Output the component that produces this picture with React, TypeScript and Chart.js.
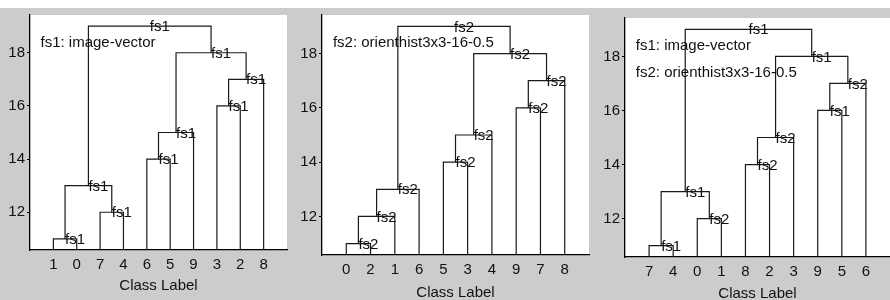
import React, { useEffect, useRef } from 'react';
import { Chart, registerables } from 'chart.js';

Chart.register(...registerables);

// ---------- data ----------
const Y_MIN = 10.58;
const Y_MAX = 19.42;
const yTicks = [12, 14, 16, 18];
const xTitle = 'Class Label';

// Panel 1 (fs1)
const leaves1 = ['1', '0', '7', '4', '6', '5', '9', '3', '2', '8'];
// children: 1..10 = leaf positions, 11.. = earlier merges (MATLAB linkage style)
const left1 = [1, 3, 11, 5, 14, 8, 16, 15, 13];
const right1 = [2, 4, 12, 6, 7, 9, 10, 17, 18];
const heights1 = [11, 12, 13, 14, 15, 16, 17, 18, 19];
const labels1 = ['fs1', 'fs1', 'fs1', 'fs1', 'fs1', 'fs1', 'fs1', 'fs1', 'fs1'];
const notes1 = ['fs1: image-vector'];

// Panel 2 (fs2)
const leaves2 = ['0', '2', '1', '6', '5', '3', '4', '9', '7', '8'];
const left2 = [1, 11, 12, 5, 14, 8, 16, 15, 13];
const right2 = [2, 3, 4, 6, 7, 9, 10, 17, 18];
const heights2 = [11, 12, 13, 14, 15, 16, 17, 18, 19];
const labels2 = ['fs2', 'fs2', 'fs2', 'fs2', 'fs2', 'fs2', 'fs2', 'fs2', 'fs2'];
const notes2 = ['fs2: orienthist3x3-16-0.5'];

// Panel 3 (combined)
const leaves3 = ['7', '4', '0', '1', '8', '2', '3', '9', '5', '6'];
const left3 = [1, 3, 11, 5, 14, 8, 16, 15, 13];
const right3 = [2, 4, 12, 6, 7, 9, 10, 17, 18];
const heights3 = [11, 12, 13, 14, 15, 16, 17, 18, 19];
const labels3 = ['fs1', 'fs2', 'fs1', 'fs2', 'fs2', 'fs1', 'fs2', 'fs1', 'fs1'];
const notes3 = ['fs1: image-vector', 'fs2: orienthist3x3-16-0.5'];

// ---------- layout / style ----------
const FONT = 'Liberation Sans, Arial, sans-serif';
const FS = 15;
const LINE_COLOR = '#1a1a1a';
const TEXT_COLOR = '#111';
const NOTE_X = 0.45;
const NOTE_Y = 18.38;
const NOTE_STEP = 1;

const panels = [
  { leaves: leaves1, left: left1, right: right1, heights: heights1, labels: labels1, notes: notes1,
    x: 0, w: 292, area: { l: 30, t: 15, r: 287, b: 250 }, titlePad: 5 },
  { leaves: leaves2, left: left2, right: right2, heights: heights2, labels: labels2, notes: notes2,
    x: 292, w: 306, area: { l: 30, t: 15, r: 297, b: 255 }, titlePad: -1.5 },
  { leaves: leaves3, left: left3, right: right3, heights: heights3, labels: labels3, notes: notes3,
    x: 598, w: 292, area: { l: 27, t: 18, r: 292, b: 257 }, titlePad: -2.5 },
];

type Panel = typeof panels[number];

function buildLinks(p: Panel) {
  const n = p.leaves.length;
  const nodeX: number[] = [];
  const nodeH: number[] = [];
  for (let i = 1; i <= n; i++) { nodeX[i] = i; nodeH[i] = Y_MIN; }
  const links: { pts: { x: number; y: number }[]; cx: number; h: number; label: string }[] = [];
  p.heights.forEach((h, k) => {
    const a = p.left[k];
    const b = p.right[k];
    const id = n + 1 + k;
    nodeX[id] = (nodeX[a] + nodeX[b]) / 2;
    nodeH[id] = h;
    links.push({
      pts: [
        { x: nodeX[a], y: nodeH[a] },
        { x: nodeX[a], y: h },
        { x: nodeX[b], y: h },
        { x: nodeX[b], y: nodeH[b] },
      ],
      cx: nodeX[id],
      h,
      label: p.labels[k],
    });
  });
  return links;
}

function PanelChart({ p }: { p: Panel }) {
  const ref = useRef<HTMLCanvasElement | null>(null);
  useEffect(() => {
    if (!ref.current) return;
    const links = buildLinks(p);
    const H = 300;
    const bgPlugin = {
      id: 'bg',
      beforeDraw(chart: any) {
        const { ctx, chartArea: a } = chart;
        ctx.save();
        ctx.fillStyle = '#ffffff';
        ctx.fillRect(a.left, a.top, a.right - a.left, a.bottom - a.top);
        ctx.restore();
      },
    };
    const textPlugin = {
      id: 'texts',
      afterDatasetsDraw(chart: any) {
        const { ctx } = chart;
        const xs = chart.scales.x;
        const ys = chart.scales.y;
        ctx.save();
        ctx.font = `${FS}px ${FONT}`;
        ctx.fillStyle = TEXT_COLOR;
        ctx.textAlign = 'left';
        ctx.textBaseline = 'middle';
        links.forEach((l) => {
          ctx.fillText(l.label, xs.getPixelForValue(l.cx), ys.getPixelForValue(l.h) + 1);
        });
        p.notes.forEach((t, i) => {
          ctx.fillText(t, xs.getPixelForValue(NOTE_X), ys.getPixelForValue(NOTE_Y - i * NOTE_STEP));
        });
        ctx.restore();
      },
    };
    const chart = new Chart(ref.current, {
      type: 'scatter',
      data: {
        datasets: links.map((l) => ({
          data: l.pts,
          showLine: true,
          borderColor: LINE_COLOR,
          borderWidth: 1.2,
          pointRadius: 0,
          fill: false,
          tension: 0,
        })),
      },
      options: {
        animation: false,
        responsive: false,
        maintainAspectRatio: false,
        devicePixelRatio: 1,
        layout: { padding: { left: 0, top: p.area.t, right: p.w - p.area.r, bottom: 0 } },
        plugins: { legend: { display: false }, tooltip: { enabled: false } },
        scales: {
          x: {
            type: 'linear',
            min: 0,
            max: p.leaves.length + 1,
            afterBuildTicks: (s: any) => { s.ticks = p.leaves.map((_, i) => ({ value: i + 1 })); },
            afterFit: (s: any) => { s.height = H - p.area.b; },
            grid: { display: false, drawTicks: false },
            border: { display: true, color: '#000', width: 1.3 },
            ticks: {
              autoSkip: false,
              maxRotation: 0,
              padding: 6,
              color: TEXT_COLOR,
              font: { size: FS, family: FONT },
              callback: (v: any) => p.leaves[Math.round(Number(v)) - 1] ?? '',
            },
            title: { display: true, text: xTitle, color: TEXT_COLOR, font: { size: FS, family: FONT }, padding: { top: 2, bottom: p.titlePad } },
          },
          y: {
            type: 'linear',
            min: Y_MIN,
            max: Y_MAX,
            afterBuildTicks: (s: any) => { s.ticks = yTicks.map((v) => ({ value: v })); },
            afterFit: (s: any) => { s.width = p.area.l; },
            grid: { display: true, drawOnChartArea: false, drawTicks: true, tickLength: 3, color: '#000' },
            border: { display: true, color: '#000', width: 1.3 },
            ticks: {
              padding: 2,
              color: TEXT_COLOR,
              font: { size: FS, family: FONT },
              callback: (v: any) => String(v),
            },
          },
        },
      },
      plugins: [bgPlugin, textPlugin],
    } as any);
    return () => chart.destroy();
  }, [p]);
  return (
    <canvas
      ref={ref}
      width={p.w}
      height={300}
      style={{ position: 'absolute', left: p.x, top: 0, width: p.w, height: 300 }}
    />
  );
}

export default function App() {
  return (
    <div
      style={{
        position: 'fixed',
        left: 0,
        top: 0,
        width: 890,
        height: 300,
        overflow: 'hidden',
        background: 'linear-gradient(#ffffff 0px, #ffffff 8px, #cccccc 8px, #cccccc 100%)',
      }}
    >
      {panels.map((p, i) => (
        <PanelChart key={i} p={p} />
      ))}
    </div>
  );
}
